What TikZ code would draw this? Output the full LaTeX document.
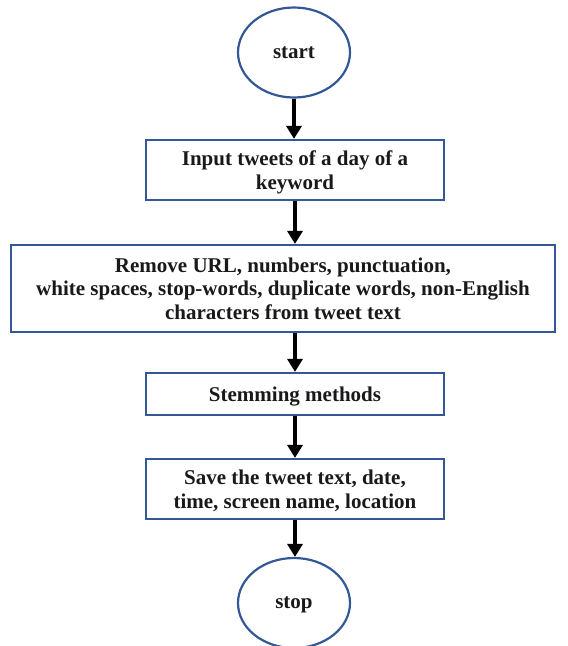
\documentclass[tikz,border=0pt]{standalone}
\usepackage{fontspec}
\setmainfont{Liberation Serif}
\usetikzlibrary{shapes.geometric,arrows.meta}
\definecolor{bordblue}{RGB}{52,88,150}
\tikzset{
  base/.style={draw=bordblue, line width=2.2pt, inner sep=0pt, align=center,
    font=\fontsize{21}{23.5}\selectfont\bfseries, text=black!90, text depth=-3pt},
  term/.style={base, ellipse, minimum width=112pt, minimum height=90pt},
  procbox/.style={base, rectangle, minimum width=298pt},
  arr/.style={line width=3.4pt, -{Triangle[width=15pt,length=13pt]}}
}
\begin{document}
\begin{tikzpicture}[x=1pt,y=1pt]
\useasboundingbox (0,0) rectangle (568,-646);
\node[term] (start) at (294,-52.5) {start};
\node[procbox, minimum height=60pt] (b1) at (295,-170) {Input tweets of a day of a\\keyword};
\node[procbox, minimum width=544pt, minimum height=87pt] (b2) at (283,-288.5) {Remove URL, numbers, punctuation,\\white spaces, stop-words, duplicate words, non-English\\characters from tweet text};
\node[procbox, minimum height=42pt] (b3) at (295,-394) {Stemming methods};
\node[procbox, minimum height=60pt] (b4) at (295,-489) {Save the tweet text, date,\\time, screen name, location};
\node[term] (stop) at (294,-603) {stop};
\draw[arr] (start.south) -- (start.south |- b1.north);
\draw[arr] (b1.south) -- (b1.south |- b2.north);
\draw[arr] (b2.south -| b3.north) -- (b3.north);
\draw[arr] (b3.south) -- (b4.north);
\draw[arr] (b4.south) -- (b4.south |- stop.north);
\end{tikzpicture}
\end{document}
